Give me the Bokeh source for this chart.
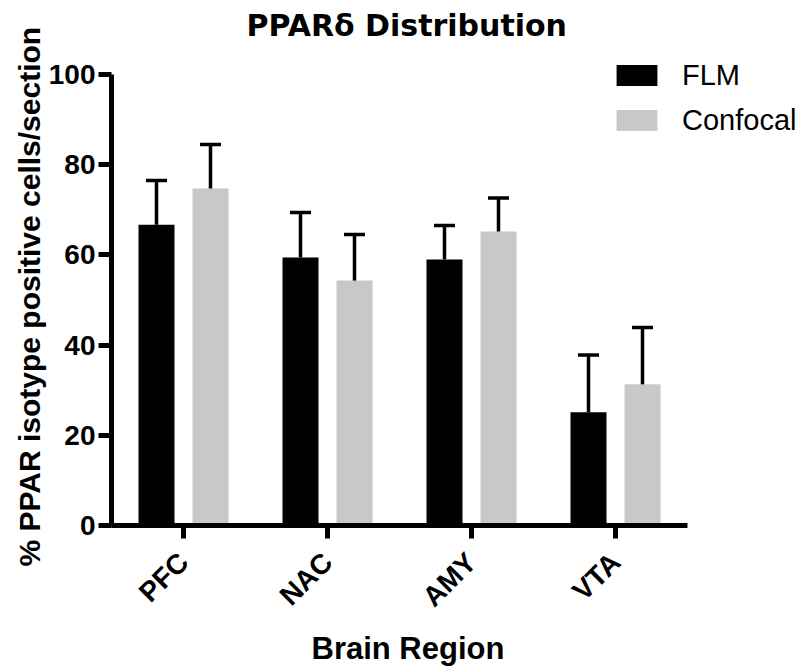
from bokeh.plotting import figure
from bokeh.models import (ColumnDataSource, Range1d, FixedTicker, Label, Title,
                          Whisker, TeeHead, Legend, LegendItem)
from bokeh.transform import dodge
from bokeh.embed import file_html
from bokeh.resources import INLINE

# ---- data ----
regions = ["PFC", "NAC", "AMY", "VTA"]
flm_mean = [66.7, 59.4, 59.0, 25.1]
flm_err = [9.8, 10.0, 7.5, 12.7]
conf_mean = [74.7, 54.3, 65.2, 31.3]
conf_err = [9.8, 10.2, 7.4, 12.6]
y_ticks = [0, 20, 40, 60, 80, 100]
series_names = ["FLM", "Confocal"]
title_text = "PPAR\u03b4 Distribution"
y_label = "% PPAR isotype positive cells/section"
x_label = "Brain Region"

FONT = "Liberation Sans"

positions = list(range(len(regions)))
src = ColumnDataSource(dict(
    pos=positions,
    region=regions,
    flm=flm_mean,
    flm_hi=[m + e for m, e in zip(flm_mean, flm_err)],
    conf=conf_mean,
    conf_hi=[m + e for m, e in zip(conf_mean, conf_err)],
))

p = figure(title=None,
           x_range=Range1d(-0.5, 4.25),
           y_range=Range1d(0, 116.41),
           frame_width=684, frame_height=525,
           min_border_left=111, min_border_right=0,
           min_border_top=0, min_border_bottom=130,
           output_backend="svg", toolbar_location=None)

# chart title, drawn inside the (extended) frame area
p.add_layout(Label(x=135, y=500, x_units="screen", y_units="screen",
                   text=title_text, text_font="DejaVu Sans",
                   text_font_size="30px", text_font_style="bold",
                   text_color="black", text_align="left",
                   text_baseline="alphabetic"))

r1 = p.vbar(x=dodge("pos", -0.1875), top="flm", bottom=0,
            width=0.25, source=src, fill_color="#000000", line_color=None)
r2 = p.vbar(x=dodge("pos", 0.1875), top="conf", bottom=0,
            width=0.25, source=src, fill_color="#C8C8C8", line_color=None)

for off, lo, hi in [(-0.1875, "flm", "flm_hi"), (0.1875, "conf", "conf_hi")]:
    w = Whisker(base=dodge("pos", off), lower=lo, upper=hi,
                source=src, line_width=3.5, line_color="black",
                upper_head=TeeHead(size=21, line_width=3.5, line_color="black"),
                lower_head=None, level="overlay")
    p.add_layout(w)

p.grid.visible = False
p.outline_line_color = None

for ax in (p.xaxis[0], p.yaxis[0]):
    ax.axis_line_width = 5
    ax.axis_line_color = "black"
    ax.major_tick_line_width = 5
    ax.major_tick_line_color = "black"
    ax.major_tick_in = 0
    ax.major_tick_out = 13
    ax.minor_tick_line_color = None
    ax.major_label_text_font = FONT
    ax.major_label_text_font_size = "28px"
    ax.major_label_text_font_style = "bold"
    ax.major_label_text_color = "black"

p.yaxis.ticker = FixedTicker(ticks=y_ticks)
p.yaxis.bounds = (0, 100)
p.yaxis.major_label_standoff = 3

# y-axis title, positioned along the axis like the reference
p.add_layout(Title(text=y_label, align="left", offset=-41, standoff=0,
                   text_font=FONT, text_font_size="30px", text_font_style="bold",
                   text_color="black"), "left")

p.xaxis.ticker = FixedTicker(ticks=positions)
p.xaxis.major_label_overrides = {i: r for i, r in zip(positions, regions)}
p.xaxis.bounds = (-0.5, len(regions) - 0.5)
p.xaxis.major_label_orientation = 0.7853981633974483
p.xaxis.major_label_standoff = 19

# x-axis title, centred under the axis span (not the extended frame)
p.add_layout(Title(text=x_label, align="left", offset=200, standoff=8,
                   vertical_align="top",
                   text_font=FONT, text_font_size="31px", text_font_style="bold",
                   text_color="black"), "below")

legend = Legend(items=[LegendItem(label=series_names[0], renderers=[r1]),
                       LegendItem(label=series_names[1], renderers=[r2])],
                location=(500, 388), orientation="vertical",
                glyph_width=51, glyph_height=26, label_height=34,
                label_standoff=20, spacing=11, padding=0, margin=0,
                border_line_color=None, background_fill_alpha=0,
                label_text_font=FONT, label_text_font_size="29px",
                label_text_color="black")
p.add_layout(legend)

open("out.html", "w").write(file_html(p, INLINE))
